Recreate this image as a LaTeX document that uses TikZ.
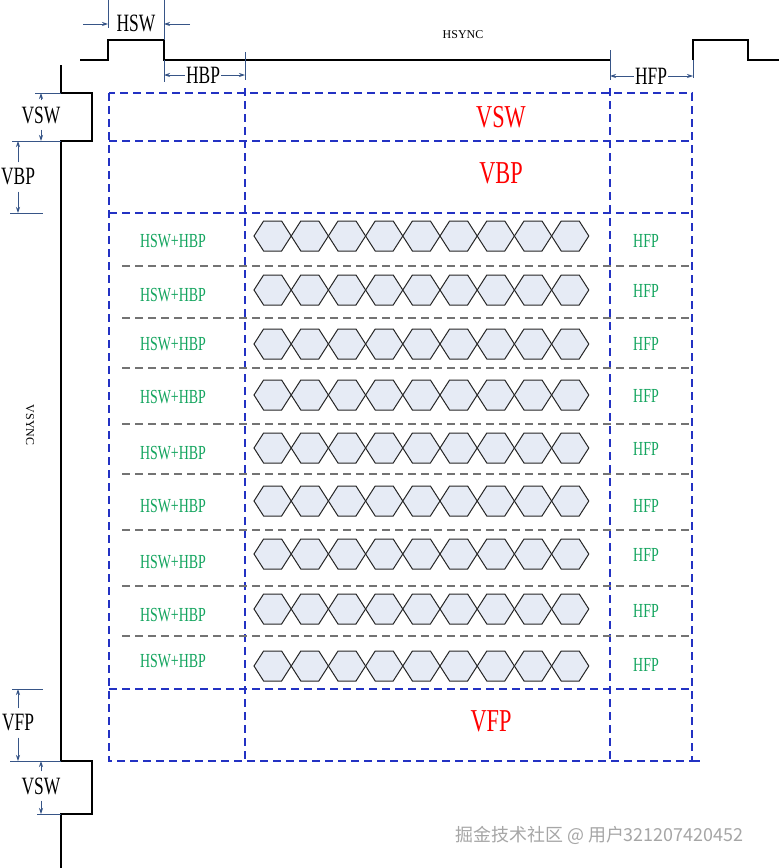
\documentclass[tikz,border=0pt]{standalone}
\usepackage{fontspec}
\setmainfont{Liberation Serif}
\newfontfamily\narrowserif[FakeStretch=0.7]{Liberation Serif}
\newfontfamily\cjkfont{Noto Sans CJK SC}
\usetikzlibrary{arrows.meta}

\definecolor{dimblue}{RGB}{55,85,135}
\definecolor{gridblue}{RGB}{35,50,195}
\definecolor{hexfill}{RGB}{230,235,245}
\definecolor{porchgreen}{RGB}{20,165,95}

\begin{document}
\begin{tikzpicture}[x=1bp, y=-1bp,
    wave/.style={line width=1.6bp, black},
    ext/.style={draw=dimblue, line width=0.8bp},
    dimarr/.style={-{Stealth[length=6bp,width=4bp]}, draw=dimblue, line width=0.8bp},
    dimlabel/.style={font=\narrowserif\fontsize{25}{25}\selectfont,
                     inner xsep=1pt, inner ysep=6pt},
    gridline/.style={draw=gridblue, line width=1.15bp, dash pattern=on 8bp off 5bp},
    rowline/.style={draw=black!55, line width=1.1bp, dash pattern=on 8bp off 5bp},
    hexcell/.style={draw=black!85, fill=hexfill, line width=1bp},
    porchred/.style={text=red, font=\narrowserif\fontsize{32}{32}\selectfont},
    porchlabel/.style={text=porchgreen, font=\narrowserif\fontsize{20}{20}\selectfont},
    signame/.style={font=\fontsize{12}{12}\selectfont}
]
    \fill[white] (0,0) rectangle (779,868);
    \useasboundingbox (0,0) rectangle (779,868);

    % sync waveforms
    \draw[wave] (80,60) -- (108,60) -- (108,40) -- (164,40) -- (164,60) -- (610,60);
    \draw[wave] (693,60) -- (693,40) -- (748,40) -- (748,60) -- (779,60);
    \draw[wave] (61,65) -- (61,93) -- (92,93) -- (92,141) -- (61,141) -- (61,761)
        -- (92,761) -- (92,814) -- (61,814) -- (61,868);
    \node[signame] (hsync) at (463,35) {HSYNC};
    \node[signame, rotate=-90] (vsync) at (30,425) {VSYNC};

    % frame regions
    \draw[gridline] (109,93) rectangle (692,761);
    \draw[gridline] (692,761) -- (700,761);
    \foreach \y in {141,213,689}
        \draw[gridline] (109,\y) -- (694,\y);
    \foreach \x in {245,610}
        \draw[gridline] (\x,88) -- (\x,761);
    \foreach \y in {266,318,368,424,474,530,586,636}
        \draw[rowline] (122,\y) -- (694,\y);

    % active pixels
    \foreach \y in {236,290,344,395,448,501,554,609,666}
        \foreach \i in {0,...,8}
            \draw[hexcell] (272.6+37.2*\i,\y) +(-18.6,0) -- +(-9,-15) -- +(9,-15)
                -- +(18.6,0) -- +(9,15) -- +(-9,15) -- cycle;

    % porch labels per line
    \foreach \yl/\yr [count=\k] in {241/241, 295/291, 344/344, 397/396, 453/449,
                                    506/506, 562/555, 615/611, 661/665} {
        \node[porchlabel] (hl\k) at (173,\yl) {HSW+HBP};
        \node[porchlabel] (hr\k) at (646,\yr) {HFP};
    }
    \node[porchred] (vswc) at (501,117) {VSW};
    \node[porchred] (vbpc) at (501,173) {VBP};
    \node[porchred] (vfpc) at (491,721) {VFP};

    % horizontal dimensions
    \draw[ext] (108,0) -- (108,28);
    \draw[ext] (164,0) -- (164,40);
    \node[dimlabel] (hsw) at (136,23) {HSW};
    \coordinate (hswL) at (108,24);
    \coordinate (hswR) at (164,24);
    \draw[dimarr] ([xshift=-25bp]hswL) -- (hswL);
    \draw[dimarr] ([xshift=26bp]hswR) -- (hswR);

    \draw[ext] (164,60) -- (164,82);
    \draw[ext] (245,52) -- (245,80);
    \node[dimlabel] (hbp) at (203,75) {HBP};
    \coordinate (hbpL) at (164,75);
    \coordinate (hbpR) at (245,75);
    \draw[dimarr] (hbp) -- (hbpL);
    \draw[dimarr] (hbp) -- (hbpR);

    \draw[ext] (610,50) -- (610,80);
    \draw[ext] (693,60) -- (693,78);
    \node[dimlabel] (hfp) at (651,76) {HFP};
    \coordinate (hfpL) at (610,76);
    \coordinate (hfpR) at (693,76);
    \draw[dimarr] (hfp) -- (hfpL);
    \draw[dimarr] (hfp) -- (hfpR);

    % vertical dimensions
    \draw[ext] (35,93) -- (61,93);
    \draw[ext] (12,141) -- (61,141);
    \draw[ext] (10,213) -- (43,213);
    \node[dimlabel] (vswT) at (41,115) {VSW};
    \coordinate (vswTa) at (41,93);
    \coordinate (vswTb) at (41,141);
    \draw[dimarr] (vswT) -- (vswTa);
    \draw[dimarr] (vswT) -- (vswTb);
    \node[dimlabel] (vbp) at (18,177) {VBP};
    \coordinate (vbpa) at (18,141);
    \coordinate (vbpb) at (18,213);
    \draw[dimarr] (vbp) -- (vbpa);
    \draw[dimarr] (vbp) -- (vbpb);

    \draw[ext] (12,689) -- (43,689);
    \draw[ext] (10,761) -- (61,761);
    \draw[ext] (37,814) -- (61,814);
    \node[dimlabel] (vfp) at (18,723) {VFP};
    \coordinate (vfpa) at (18,689);
    \coordinate (vfpb) at (18,761);
    \draw[dimarr] (vfp) -- (vfpa);
    \draw[dimarr] (vfp) -- (vfpb);
    \node[dimlabel] (vswB) at (41,786) {VSW};
    \coordinate (vswBa) at (41,761);
    \coordinate (vswBb) at (41,814);
    \draw[dimarr] (vswB) -- (vswBa);
    \draw[dimarr] (vswB) -- (vswBb);

    \node[anchor=west, text=black!35, font=\cjkfont\fontsize{18}{18}\selectfont]
        (mark) at (452,835) {掘金技术社区 @ 用户321207420452};
\end{tikzpicture}
\end{document}
